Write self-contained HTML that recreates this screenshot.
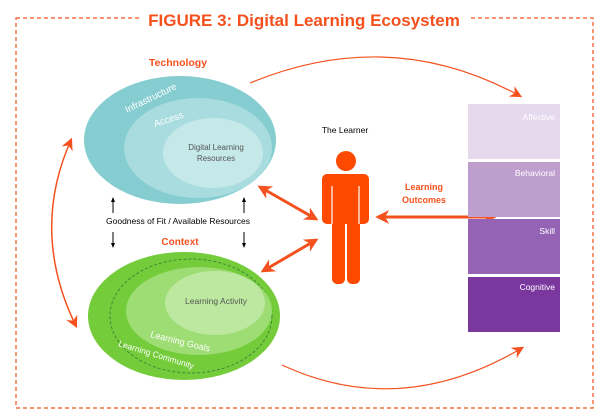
<!DOCTYPE html>
<html><head><style>
body{margin:0;background:#fff}
svg{display:block}
text{font-family:"Liberation Sans",sans-serif}
</style></head><body>
<svg width="608" height="418" viewBox="0 0 608 418" xmlns="http://www.w3.org/2000/svg">
<defs>
<marker id="a" viewBox="0 0 10 10" refX="8" refY="5" markerUnits="userSpaceOnUse" markerWidth="14" markerHeight="14" orient="auto-start-reverse"><path d="M0,0 L10,5 L0,10 L3,5z" fill="#f4511e"/></marker>
<marker id="b" viewBox="0 0 10 10" refX="8" refY="5" markerUnits="userSpaceOnUse" markerWidth="12" markerHeight="12" orient="auto-start-reverse"><path d="M0,0 L10,5 L0,10 L3,5z" fill="#f4511e"/></marker>
<marker id="k" viewBox="0 0 10 10" refX="8" refY="5" markerWidth="5" markerHeight="5" orient="auto"><path d="M0,1 L10,5 L0,9z" fill="#000"/></marker>
</defs>
<rect x="16" y="18" width="577" height="390" fill="none" stroke="#f4511e" stroke-width="1.2" stroke-dasharray="4,3"/>
<rect x="140" y="6" width="328" height="26" fill="#fff"/>
<text x="304" y="26" text-anchor="middle" font-size="17" font-weight="bold" fill="#f4511e">FIGURE 3: Digital Learning Ecosystem</text>

<text x="178" y="66" text-anchor="middle" font-size="10.5" font-weight="bold" fill="#f4511e">Technology</text>
<ellipse cx="180" cy="140" rx="96" ry="64" fill="#85cdd0"/>
<ellipse cx="198" cy="148" rx="74" ry="50" fill="#a8dcde"/>
<ellipse cx="213" cy="153" rx="50" ry="35" fill="#c5e8e9"/>
<text x="0" y="0" font-size="9.5" fill="#fff" transform="translate(127,113) rotate(-26)">Infrastructure</text>
<text x="0" y="0" font-size="9.5" fill="#fff" transform="translate(155,127) rotate(-18)">Access</text>
<text x="216" y="150" text-anchor="middle" font-size="8" fill="#555">Digital Learning</text>
<text x="216" y="161" text-anchor="middle" font-size="8" fill="#555">Resources</text>

<line x1="113" y1="213" x2="113" y2="198" stroke="#000" stroke-width="1" marker-end="url(#k)"/>
<line x1="244" y1="213" x2="244" y2="198" stroke="#000" stroke-width="1" marker-end="url(#k)"/>
<line x1="113" y1="232" x2="113" y2="247" stroke="#000" stroke-width="1" marker-end="url(#k)"/>
<line x1="244" y1="232" x2="244" y2="247" stroke="#000" stroke-width="1" marker-end="url(#k)"/>
<text x="178" y="224" text-anchor="middle" font-size="8.5" fill="#000">Goodness of Fit / Available Resources</text>
<text x="180" y="245" text-anchor="middle" font-size="10" font-weight="bold" fill="#f4511e">Context</text>

<ellipse cx="184" cy="316" rx="96" ry="64" fill="#74cc3a"/>
<ellipse cx="191" cy="316" rx="81" ry="57" fill="none" stroke="#3d8a3a" stroke-width="1" stroke-dasharray="3,2"/>
<ellipse cx="199" cy="311" rx="73" ry="44" fill="#9edc74"/>
<ellipse cx="215" cy="303" rx="50" ry="32" fill="#bde89f"/>
<text x="216" y="304" text-anchor="middle" font-size="8.5" fill="#555">Learning Activity</text>
<text x="0" y="0" font-size="9" fill="#fff" transform="translate(150,337) rotate(14)">Learning Goals</text>
<text x="0" y="0" font-size="8.5" fill="#fff" transform="translate(118,346) rotate(17)">Learning Community</text>

<path d="M71,140 Q30,232 76,326" fill="none" stroke="#f4511e" stroke-width="1.5" marker-start="url(#b)" marker-end="url(#b)"/>
<path d="M250,83 Q390,25 520,96" fill="none" stroke="#f4511e" stroke-width="1.2" marker-end="url(#b)"/>
<path d="M282,365 Q400,420 522,348" fill="none" stroke="#f4511e" stroke-width="1.2" marker-end="url(#b)"/>
<line x1="260" y1="187" x2="316" y2="219" stroke="#f4511e" stroke-width="3" marker-start="url(#a)" marker-end="url(#a)"/>
<line x1="263" y1="271" x2="316" y2="240" stroke="#f4511e" stroke-width="3" marker-start="url(#a)" marker-end="url(#a)"/>
<line x1="378" y1="217" x2="494" y2="217" stroke="#f4511e" stroke-width="3" marker-start="url(#a)" marker-end="url(#a)"/>

<text x="345" y="133" text-anchor="middle" font-size="8.5" fill="#000">The Learner</text>
<circle cx="346" cy="161" r="10" fill="#fd4a00"/>
<rect x="322" y="174" width="47" height="50" rx="5" fill="#fd4a00"/>
<rect x="332" y="200" width="13" height="84" rx="5" fill="#fd4a00"/>
<rect x="347" y="200" width="13" height="84" rx="5" fill="#fd4a00"/>
<line x1="332" y1="186" x2="332" y2="224" stroke="#fff" stroke-width="1.2"/>
<line x1="359" y1="186" x2="359" y2="224" stroke="#fff" stroke-width="1.2"/>

<text x="424" y="190" text-anchor="middle" font-size="9" font-weight="bold" fill="#f4511e">Learning</text>
<text x="424" y="203" text-anchor="middle" font-size="9" font-weight="bold" fill="#f4511e">Outcomes</text>

<rect x="468" y="104" width="92" height="55" fill="#e6d9ee"/>
<rect x="468" y="162" width="92" height="55" fill="#bd9ecd"/>
<rect x="468" y="219" width="92" height="55" fill="#9563b3"/>
<rect x="468" y="277" width="92" height="55" fill="#7a379e"/>
<text x="555" y="120" text-anchor="end" font-size="8.5" fill="#fff">Affective</text>
<text x="555" y="176" text-anchor="end" font-size="8.5" fill="#fff">Behavioral</text>
<text x="555" y="234" text-anchor="end" font-size="8.5" fill="#fff">Skill</text>
<text x="555" y="290" text-anchor="end" font-size="8.5" fill="#fff">Cognitive</text>
</svg>
</body></html>
